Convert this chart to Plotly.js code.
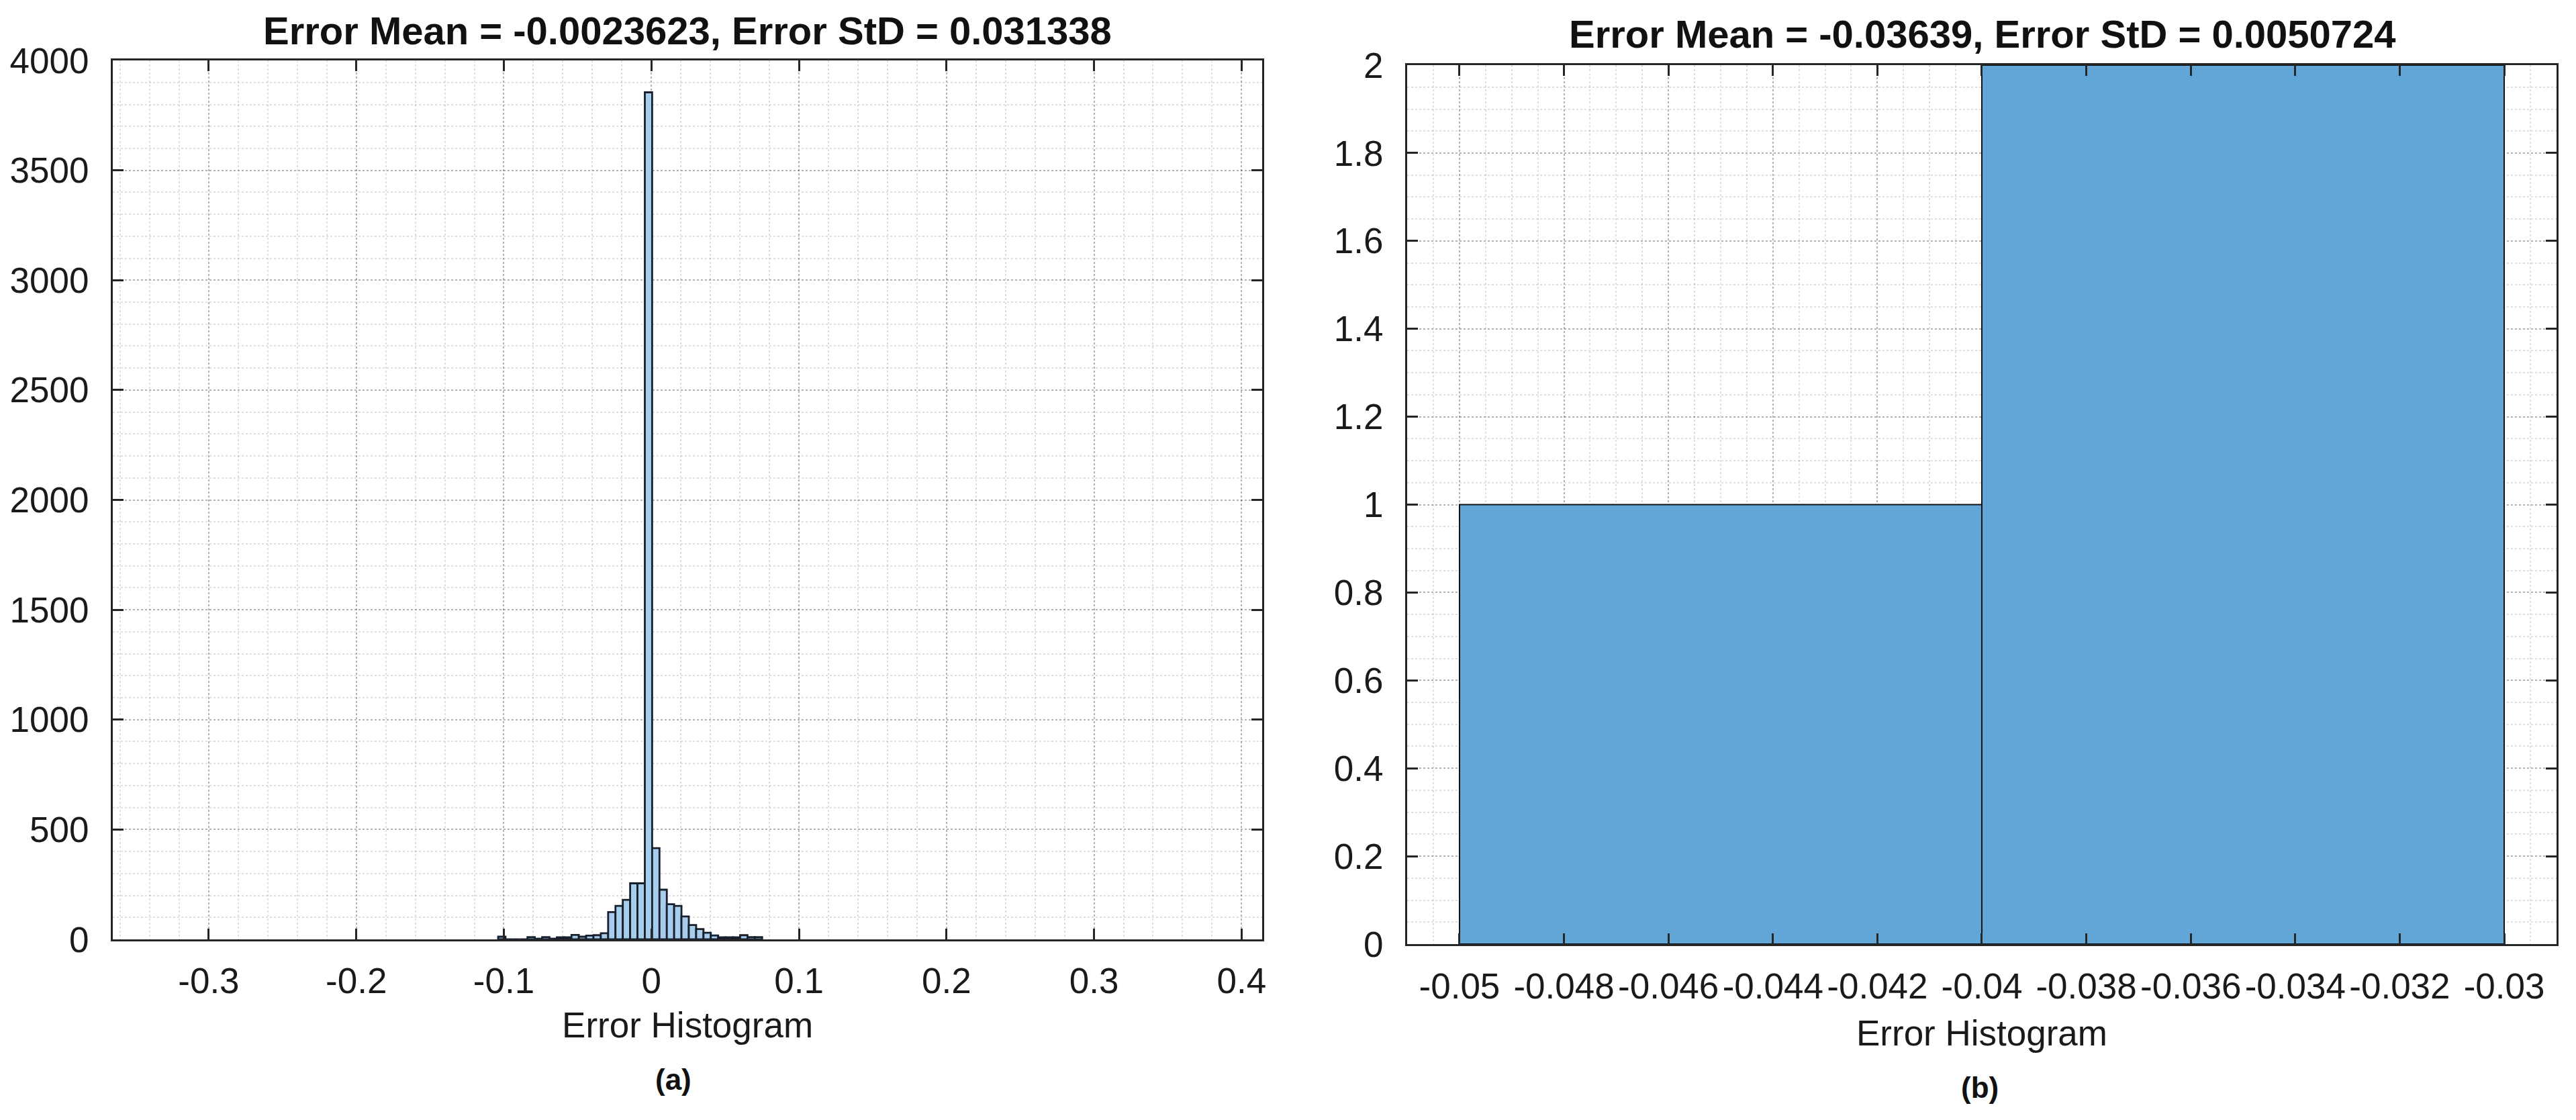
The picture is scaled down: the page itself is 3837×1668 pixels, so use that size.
<!DOCTYPE html>
<html>
<head>
<meta charset="utf-8">
<script src="https://cdn.plot.ly/plotly-3.0.1.min.js"></script>
<style>
  html, body { margin: 0; padding: 0; background: #ffffff; }
  #chart { width: 3837px; height: 1668px; }
</style>
</head>
<body>
<div id="chart"></div>
<script>
// ---------- data: panel (a) ----------
const errorBinCentersA = [
  -0.10137, -0.09640, -0.09143, -0.08646, -0.08149, -0.07652, -0.07155, -0.06658,
  -0.06161, -0.05664, -0.05167, -0.04670, -0.04173, -0.03676, -0.03179, -0.02682,
  -0.02185, -0.01688, -0.01191, -0.00694, -0.00197, 0.00300, 0.00797, 0.01294,
  0.01791, 0.02288, 0.02785, 0.03282, 0.03779, 0.04276, 0.04773, 0.05270,
  0.05767, 0.06264, 0.06761, 0.07258
];
const errorCountsA = [
  12, 0, 0, 0, 10, 3, 10, 3,
  9, 9, 20, 12, 17, 19, 28, 124,
  152, 180, 255, 255, 3855, 415, 226, 160,
  152, 104, 65, 47, 30, 18, 9, 9,
  9, 19, 10, 10
];
const binWidthA = 0.00497;
const titleA = "Error Mean = -0.0023623, Error StD = 0.031338";
const xTickValsA = [-0.3, -0.2, -0.1, 0, 0.1, 0.2, 0.3, 0.4];
const xTickTextA = ["-0.3", "-0.2", "-0.1", "0", "0.1", "0.2", "0.3", "0.4"];
const yTickValsA = [0, 500, 1000, 1500, 2000, 2500, 3000, 3500, 4000];
const yTickTextA = ["0", "500", "1000", "1500", "2000", "2500", "3000", "3500", "4000"];

// ---------- data: panel (b) ----------
const errorBinCentersB = [-0.045, -0.035];
const errorCountsB = [1, 2];
const binWidthB = 0.01;
const titleB = "Error Mean = -0.03639, Error StD = 0.0050724";
const xTickValsB = [-0.05, -0.048, -0.046, -0.044, -0.042, -0.04, -0.038, -0.036, -0.034, -0.032, -0.03];
const xTickTextB = ["-0.05", "-0.048", "-0.046", "-0.044", "-0.042", "-0.04", "-0.038", "-0.036", "-0.034", "-0.032", "-0.03"];
const yTickValsB = [0, 0.2, 0.4, 0.6, 0.8, 1, 1.2, 1.4, 1.6, 1.8, 2];
const yTickTextB = ["0", "0.2", "0.4", "0.6", "0.8", "1", "1.2", "1.4", "1.6", "1.8", "2"];

const xAxisTitle = "Error Histogram";
const panelLabels = ["(a)", "(b)"];

// ---------- styling ----------
const FONT = "Liberation Sans, Arial, Helvetica, sans-serif";
const AXIS_COLOR = "#262626";
const GRID_MAJOR = "rgba(0,0,0,0.20)";
const GRID_MINOR = "rgba(0,0,0,0.12)";

function axisBase(extra) {
  return Object.assign({
    showline: true,
    linecolor: AXIS_COLOR,
    linewidth: 3,
    mirror: "allticks",
    ticks: "inside",
    ticklen: 16,
    tickwidth: 3,
    tickcolor: AXIS_COLOR,
    tickmode: "array",
    showgrid: true,
    gridcolor: GRID_MAJOR,
    gridwidth: 2,
    griddash: "dot",
    zeroline: false,
    automargin: false,
    tickfont: { family: FONT, size: 53, color: "#1a1a1a" },
    layer: "above traces"
  }, extra);
}

const traces = [
  {
    type: "bar",
    x: errorBinCentersA,
    y: errorCountsA,
    width: binWidthA,
    xaxis: "x",
    yaxis: "y",
    marker: { color: "#a6cdec", line: { color: "#17202c", width: 2.8 } },
    hoverinfo: "x+y"
  },
  {
    type: "bar",
    x: errorBinCentersB,
    y: errorCountsB,
    width: binWidthB,
    xaxis: "x2",
    yaxis: "y2",
    marker: { color: "#62a6d7", line: { color: "#111111", width: 2 } },
    hoverinfo: "x+y"
  }
];

const layout = {
  width: 3837,
  height: 1668,
  margin: { l: 0, r: 0, t: 0, b: 0 },
  paper_bgcolor: "#ffffff",
  plot_bgcolor: "#ffffff",
  showlegend: false,
  bargap: 0,
  font: { family: FONT, color: "#1a1a1a" },
  xaxis: axisBase({
    domain: [0.0438, 0.4900],
    range: [-0.365, 0.414],
    anchor: "y",
    tickvals: xTickValsA,
    ticktext: xTickTextA,
    ticklabelstandoff: 13,
    minor: { tickmode: "linear", tick0: 0, dtick: 0.02, showgrid: true, gridcolor: GRID_MINOR, gridwidth: 2, griddash: "dot", ticks: "" },
    title: { text: xAxisTitle, font: { family: FONT, size: 53, color: "#1a1a1a" }, standoff: 20 }
  }),
  yaxis: axisBase({
    domain: [0.1613, 0.9460],
    range: [0, 4000],
    anchor: "x",
    tickvals: yTickValsA,
    ticktext: yTickTextA,
    ticklabelstandoff: 22,
    minor: { tickmode: "linear", tick0: 0, dtick: 100, showgrid: true, gridcolor: GRID_MINOR, gridwidth: 2, griddash: "dot", ticks: "" }
  }),
  xaxis2: axisBase({
    domain: [0.5463, 0.9924],
    range: [-0.051, -0.029],
    anchor: "y2",
    tickvals: xTickValsB,
    ticktext: xTickTextB,
    ticklabelstandoff: 14,
    minor: { tickmode: "linear", tick0: -0.05, dtick: 0.0005, showgrid: true, gridcolor: GRID_MINOR, gridwidth: 2, griddash: "dot", ticks: "" },
    title: { text: xAxisTitle, font: { family: FONT, size: 53, color: "#1a1a1a" }, standoff: 24 }
  }),
  yaxis2: axisBase({
    domain: [0.1571, 0.9418],
    range: [0, 2],
    anchor: "x2",
    tickvals: yTickValsB,
    ticktext: yTickTextB,
    ticklabelstandoff: 22,
    minor: { tickmode: "linear", tick0: 0, dtick: 0.05, showgrid: true, gridcolor: GRID_MINOR, gridwidth: 2, griddash: "dot", ticks: "" }
  }),
  annotations: [
    {
      text: "<b>" + titleA + "</b>",
      xref: "paper", yref: "paper", x: 0.2669, y: 0.973,
      xanchor: "center", yanchor: "middle", showarrow: false,
      font: { family: FONT, size: 58, color: "#111111" }
    },
    {
      text: "<b>" + titleB + "</b>",
      xref: "paper", yref: "paper", x: 0.7696, y: 0.970,
      xanchor: "center", yanchor: "middle", showarrow: false,
      font: { family: FONT, size: 58, color: "#111111" }
    },
    {
      text: "<b>" + panelLabels[0] + "</b>",
      xref: "paper", yref: "paper", x: 0.2614, y: 0.036,
      xanchor: "center", yanchor: "middle", showarrow: false,
      font: { family: FONT, size: 44, color: "#111111" }
    },
    {
      text: "<b>" + panelLabels[1] + "</b>",
      xref: "paper", yref: "paper", x: 0.7686, y: 0.029,
      xanchor: "center", yanchor: "middle", showarrow: false,
      font: { family: FONT, size: 44, color: "#111111" }
    }
  ]
};

Plotly.newPlot("chart", traces, layout, { displayModeBar: false, staticPlot: true });
</script>
</body>
</html>
